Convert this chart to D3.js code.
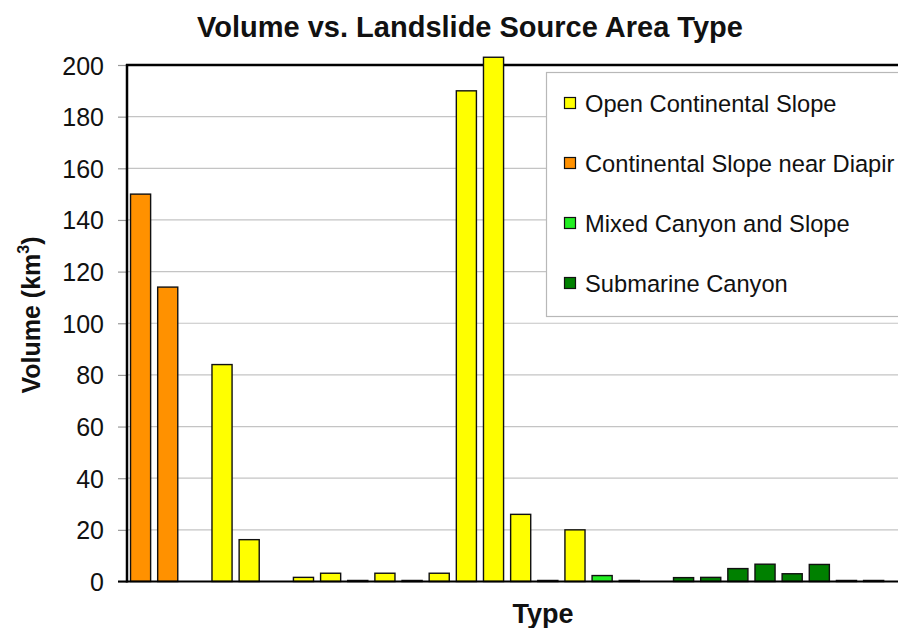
<!DOCTYPE html>
<html><head><meta charset="utf-8">
<script src="https://cdn.jsdelivr.net/npm/d3@7"></script>
<style>
html,body{margin:0;padding:0;background:#fff;overflow:hidden}
text{font-family:"Liberation Sans",Arial,sans-serif}
</style></head>
<body><svg id="c" width="898" height="628"></svg>
<script>
// Data
const categories = d3.range(1, 32).map(i => "T" + i);
const types = ["Continental Slope near Diapir","Continental Slope near Diapir",null,
  "Open Continental Slope","Open Continental Slope",null,
  "Open Continental Slope","Open Continental Slope","Open Continental Slope","Open Continental Slope",
  "Open Continental Slope","Open Continental Slope","Open Continental Slope","Open Continental Slope",
  "Open Continental Slope","Open Continental Slope","Open Continental Slope",
  "Mixed Canyon and Slope","Mixed Canyon and Slope",null,
  "Submarine Canyon","Submarine Canyon","Submarine Canyon","Submarine Canyon","Submarine Canyon",
  "Submarine Canyon","Submarine Canyon","Submarine Canyon",null,null,null];
const volumes = [150,114,null,84,16.2,null,1.6,3.2,0.4,3.2,0.4,3.2,190,203,26,0.4,20,
  2.3,0.4,null,1.5,1.6,5,6.7,3,6.6,0.4,0.4,null,null,null];
const legendNames = ["Open Continental Slope","Continental Slope near Diapir","Mixed Canyon and Slope","Submarine Canyon"];
const legendColors = ["#ffff00","#ff9100","#22ee22","#008000"];
const yTicks = [0,20,40,60,80,100,120,140,160,180,200];

const svg = d3.select("#c");
const L = 127, T = 65, B = 581.5, R = 127 + 31*27.15;
const x = d3.scaleBand().domain(categories).range([L, R]).paddingInner(0.26).paddingOuter(0.13);
const y = d3.scaleLinear().domain([0, 200]).range([B, T]);
const color = d3.scaleOrdinal().domain(legendNames).range(legendColors);

// gridlines
svg.append("g").selectAll("line").data(yTicks.filter(t => t > 0 && t < 200)).join("line")
  .attr("x1", L).attr("x2", 898).attr("y1", d => y(d)).attr("y2", d => y(d))
  .attr("stroke", "#c4c4c4").attr("stroke-width", 1.2);

// y axis
const ya = svg.append("g").attr("transform", `translate(${L},0)`)
  .call(d3.axisLeft(y).tickValues(yTicks).tickSize(9).tickPadding(14));
ya.select(".domain").remove();
ya.selectAll(".tick line").attr("stroke", "#999").attr("stroke-width", 1.2);
ya.selectAll(".tick text").attr("font-size", 25).attr("fill", "#111").attr("dy", "0.36em")
  .style("font-family", '"Liberation Sans",Arial,sans-serif');

// top border
svg.append("line").attr("x1", L - 1).attr("x2", 898).attr("y1", T).attr("y2", T)
  .attr("stroke", "#000").attr("stroke-width", 2.5);

// bars
const data = categories.map((c, i) => ({c, t: types[i], v: volumes[i]})).filter(d => d.v != null);
svg.append("g").selectAll("rect").data(data).join("rect")
  .attr("x", d => x(d.c)).attr("width", x.bandwidth())
  .attr("y", d => y(d.v)).attr("height", d => y(0) - y(d.v))
  .attr("fill", d => color(d.t)).attr("stroke", "#111").attr("stroke-width", 1.4);

// axes lines
svg.append("line").attr("x1", L).attr("x2", L).attr("y1", T - 1).attr("y2", B + 1)
  .attr("stroke", "#000").attr("stroke-width", 2.5);
svg.append("line").attr("x1", L - 9).attr("x2", 898).attr("y1", B).attr("y2", B)
  .attr("stroke", "#000").attr("stroke-width", 2);

// legend
const lg = svg.append("g");
lg.append("rect").attr("x", 546.5).attr("y", 72.5).attr("width", 400).attr("height", 244)
  .attr("fill", "#fff").attr("stroke", "#b8b8b8").attr("stroke-width", 1.2);
const li = lg.selectAll("g.li").data(legendNames).join("g").attr("class", "li")
  .attr("transform", (d, i) => `translate(564,${103 + i * 60})`);
li.append("rect").attr("x", 0.5).attr("y", -5.5).attr("width", 11).attr("height", 11)
  .attr("fill", d => color(d)).attr("stroke", "#111").attr("stroke-width", 1.2);
li.append("text").attr("x", 21).attr("y", 0).attr("dy", "0.36em")
  .attr("font-size", 23.7).attr("fill", "#111").text(d => d);

// title
svg.append("text").attr("x", 470).attr("y", 37).attr("text-anchor", "middle")
  .attr("font-size", 29).attr("font-weight", "bold").attr("fill", "#111")
  .text("Volume vs. Landslide Source Area Type");
// x label
svg.append("text").attr("x", 543).attr("y", 623).attr("text-anchor", "middle")
  .attr("font-size", 27).attr("font-weight", "bold").attr("fill", "#111").text("Type");
// y label
const yl = svg.append("text").attr("transform", "translate(40,315) rotate(-90)")
  .attr("text-anchor", "middle").attr("font-size", 25).attr("font-weight", "bold").attr("fill", "#111");
yl.append("tspan").text("Volume (km");
yl.append("tspan").attr("font-size", 16).attr("dy", -11).text("3");
yl.append("tspan").attr("dy", 11).text(")");
</script></body></html>
